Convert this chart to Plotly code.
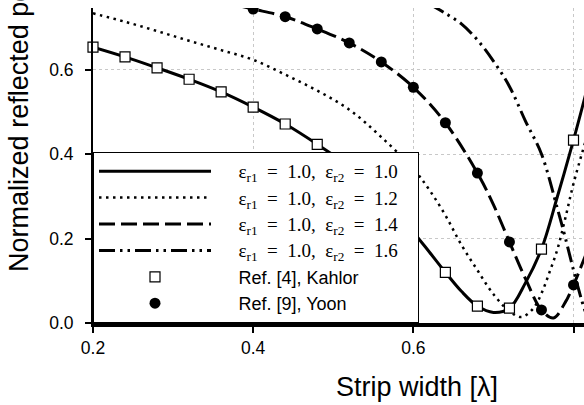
import plotly.graph_objects as go

# ---- data ----
x_e10 = [0.20, 0.24, 0.28, 0.32, 0.36, 0.40, 0.44, 0.48, 0.52, 0.56, 0.60, 0.62, 0.64,
         0.66, 0.68, 0.70, 0.72, 0.74, 0.76, 0.78, 0.80, 0.815]
y_e10 = [0.653, 0.630, 0.604, 0.577, 0.547, 0.511, 0.471, 0.423, 0.370, 0.300, 0.215, 0.168,
         0.120, 0.075, 0.040, 0.025, 0.035, 0.095, 0.175, 0.300, 0.433, 0.540]

x_e12 = [0.20, 0.24, 0.28, 0.32, 0.36, 0.40, 0.44, 0.48, 0.52, 0.56, 0.60, 0.62, 0.64,
         0.66, 0.68, 0.70, 0.72, 0.735, 0.75, 0.76, 0.77, 0.78, 0.79, 0.80, 0.815]
y_e12 = [0.733, 0.713, 0.691, 0.668, 0.646, 0.623, 0.588, 0.550, 0.505, 0.440, 0.365, 0.315,
         0.255, 0.185, 0.125, 0.068, 0.028, 0.014, 0.035, 0.070, 0.120, 0.175, 0.250, 0.330, 0.430]

x_e14 = [0.38, 0.40, 0.44, 0.48, 0.52, 0.56, 0.60, 0.64, 0.68, 0.70, 0.72, 0.74, 0.76,
         0.775, 0.79, 0.80, 0.815]
y_e14 = [0.752, 0.743, 0.725, 0.696, 0.663, 0.618, 0.558, 0.474, 0.355, 0.280, 0.192, 0.105,
         0.031, 0.012, 0.050, 0.090, 0.160]

x_e16 = [0.62, 0.64, 0.66, 0.68, 0.70, 0.72, 0.74, 0.76, 0.78, 0.79, 0.80, 0.81, 0.815]
y_e16 = [0.755, 0.733, 0.708, 0.670, 0.620, 0.560, 0.478, 0.400, 0.270, 0.200, 0.125, 0.055, 0.025]

x_kahlor = [0.20, 0.24, 0.28, 0.32, 0.36, 0.40, 0.44, 0.48, 0.52, 0.56, 0.60, 0.64, 0.68, 0.72, 0.76, 0.80]
y_kahlor = [0.653, 0.630, 0.604, 0.577, 0.547, 0.511, 0.471, 0.423, 0.370, 0.300, 0.213, 0.120,
            0.040, 0.035, 0.175, 0.433]

x_yoon = [0.40, 0.44, 0.48, 0.52, 0.56, 0.60, 0.64, 0.68, 0.72, 0.76, 0.80]
y_yoon = [0.743, 0.725, 0.696, 0.663, 0.618, 0.558, 0.474, 0.355, 0.192, 0.031, 0.090]

eps2_labels = ["1.0", "1.2", "1.4", "1.6"]
x_ticks = [0.2, 0.4, 0.6, 0.8]
y_ticks = [0.0, 0.2, 0.4, 0.6]
x_title = "Strip width [λ]"
y_title = "Normalized reflected power"

NB = "\u00a0"


def eps_name(e2, pad=0):
    return (f'{NB*5}<span style="font-size:19px">ε<sub>r1</sub>{NB*2}={NB*2}1.0,{NB*2}'
            f'ε<sub>r2</sub>{NB*2}={NB*2}{e2}{NB*pad}</span>')


def ref_name(txt):
    return f'{NB*5}<span style="font-family:Liberation Sans">{txt}</span>'


fig = go.Figure()
line_styles = [
    (x_e10, y_e10, "solid", 3),
    (x_e12, y_e12, "2.5px,4.5px", 2.5),
    (x_e14, y_e14, "16px,6px", 3),
    (x_e16, y_e16, "16px,5px,2.5px,5px,2.5px,5px", 3),
]
for i, ((xs, ys, dash, w), lab) in enumerate(zip(line_styles, eps2_labels)):
    fig.add_trace(go.Scatter(x=xs, y=ys, mode="lines", name=eps_name(lab, 3 if i == 0 else 0),
                             line=dict(color="black", width=w, dash=dash, shape="spline")))

fig.add_trace(go.Scatter(x=x_kahlor, y=y_kahlor, mode="markers", name=ref_name("Ref. [4], Kahlor"),
                         cliponaxis=False,
                         marker=dict(symbol="square", size=10, color="white",
                                     line=dict(color="black", width=1.2))))
fig.add_trace(go.Scatter(x=x_yoon, y=y_yoon, mode="markers", name=ref_name("Ref. [9], Yoon"),
                         marker=dict(symbol="circle", size=11, color="black",
                                     line=dict(color="black", width=0))))

tickfont = dict(family="Liberation Sans", size=17.5, color="black")
fig.update_layout(
    template="none",
    width=584, height=405,
    margin=dict(l=93, r=0, t=8, b=82, autoexpand=False),
    paper_bgcolor="white", plot_bgcolor="white",
    showlegend=True,
    hovermode=False,
    legend=dict(x=0, y=0, xanchor="left", yanchor="bottom", bgcolor="white",
                bordercolor="black", borderwidth=1, itemwidth=112, tracegroupgap=0,
                font=dict(family="Liberation Serif", size=18, color="black")),
    xaxis=dict(range=[0.2, 0.8131], tickvals=x_ticks, tickformat=".1f", showline=True,
               linecolor="black", linewidth=3.5, ticks="outside", ticklen=6, tickwidth=1.5,
               tickcolor="black", showgrid=True, gridcolor="#c8c8c8", griddash="dot",
               gridwidth=1, zeroline=False, tickfont=tickfont, automargin=False),
    yaxis=dict(range=[0, 0.7456], tickvals=y_ticks, tickformat=".1f", showline=True,
               linecolor="black", linewidth=2, ticks="outside", ticklen=6, tickwidth=1.5,
               tickcolor="black", showgrid=True, gridcolor="#c8c8c8", griddash="dot",
               gridwidth=1, zeroline=False, tickfont=tickfont, automargin=False,
               ticklabelstandoff=8),
    annotations=[
        dict(text=x_title, xref="x", yref="paper", x=0.605, y=-0.203, xanchor="center",
             yanchor="middle", showarrow=False,
             font=dict(family="Liberation Sans", size=27, color="black")),
        dict(text=y_title, xref="paper", yref="y", x=-0.152, y=0.51, xanchor="center",
             yanchor="middle", textangle=-90, showarrow=False,
             font=dict(family="Liberation Sans", size=27, color="black")),
    ],
)

fig.write_html("out.html", config={"displayModeBar": False},
               post_script="document.body.style.margin='0px';")
